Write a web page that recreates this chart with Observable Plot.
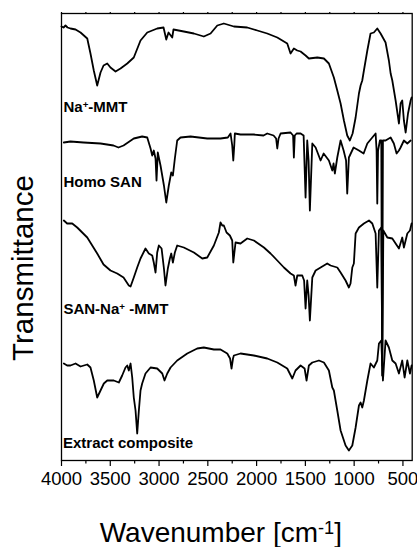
<!DOCTYPE html>
<html>
<head>
<meta charset="utf-8">
<script src="https://cdn.jsdelivr.net/npm/d3@7"></script>
<script src="https://cdn.jsdelivr.net/npm/@observablehq/plot@0.6"></script>
<style>
  html, body { margin: 0; padding: 0; background: #fff; }
  #chart svg { display: block; }
</style>
</head>
<body>
<div id="chart"></div>
<script>
// Wavenumber (cm-1) and transmittance (a.u., stacked offsets)
const naMMT = [
  [4000,434],[3979,433],[3959,435],[3938,433],[3908,432],[3856,431],[3805,428],[3736,422],
  [3703,407],[3669,390],[3634,375],[3600,388],[3569,395],[3531,397],[3498,393],[3446,389],
  [3395,392],[3326,397],[3259,403],[3190,420],[3121,428],[3019,432],[2954,433],[2926,421],
  [2903,428],[2865,423],[2852,431],[2746,429],[2643,427],[2541,424],[2472,427],[2403,435],
  [2336,437],[2233,434],[2096,433],[1993,430],[1891,427],[1788,423],[1686,417],[1652,407],
  [1618,412],[1583,410],[1549,409],[1498,405],[1464,402],[1378,403],[1310,402],[1259,397],
  [1208,383],[1173,370],[1139,357],[1105,340],[1071,325],[1044,320],[1016,327],[985,343],
  [951,367],[934,375],[917,380],[900,390],[865,410],[832,427],[798,428],[763,432],
  [729,427],[678,418],[644,400],[626,387],[609,380],[575,360],[541,337],[524,357],
  [507,360],[490,340],[472,328],[448,347],[421,360],[411,363]
];
const homoSAN = [
  [3976,318],[3908,319],[3774,318],[3600,317],[3467,315],[3416,313],[3364,315],[3259,322],
  [3173,324],[3121,323],[3087,312],[3070,305],[3054,310],[3036,302],[3026,280],[3013,308],
  [2985,295],[2950,275],[2926,258],[2900,275],[2875,288],[2858,285],[2838,302],[2814,320],
  [2780,323],[2677,324],[2506,322],[2370,322],[2295,323],[2267,327],[2250,315],[2239,300],
  [2229,315],[2223,327],[2165,326],[2031,326],[1929,325],[1891,327],[1826,325],[1800,322],
  [1788,312],[1775,322],[1754,327],[1652,328],[1626,325],[1618,303],[1609,325],[1590,327],
  [1549,327],[1518,325],[1498,263],[1481,320],[1467,300],[1454,250],[1429,317],[1395,313],
  [1344,300],[1313,307],[1259,300],[1224,290],[1211,297],[1198,287],[1173,303],[1139,320],
  [1108,310],[1083,300],[1071,267],[1054,303],[1006,313],[951,310],[903,307],[865,317],
  [814,323],[780,327],[770,310],[763,257],[755,310],[736,320],[722,320],[713,85],
  [705,320],[678,320],[626,323],[593,317],[565,307],[541,310],[524,313],[490,320],
  [455,317],[421,320]
];
const sanNaMMT = [
  [3976,240],[3942,237],[3890,237],[3839,233],[3736,223],[3634,207],[3569,196],[3498,190],
  [3429,187],[3364,183],[3310,175],[3292,174],[3259,183],[3224,193],[3190,202],[3139,212],
  [3105,207],[3070,205],[3054,198],[3036,188],[3019,208],[3002,215],[2974,212],[2950,192],
  [2934,175],[2910,192],[2889,202],[2875,207],[2858,198],[2838,208],[2814,215],[2746,213],
  [2643,208],[2557,202],[2506,203],[2438,215],[2387,228],[2370,238],[2352,235],[2336,235],
  [2308,228],[2274,225],[2250,220],[2239,198],[2216,218],[2165,217],[2096,222],[2028,220],
  [1925,213],[1857,207],[1788,200],[1720,193],[1652,187],[1618,185],[1601,175],[1583,185],
  [1532,185],[1513,180],[1498,152],[1481,180],[1467,165],[1454,140],[1429,183],[1395,190],
  [1344,193],[1276,197],[1242,195],[1173,193],[1139,188],[1088,180],[1054,173],[1037,177],
  [1019,193],[1003,197],[985,227],[951,233],[900,237],[848,240],[814,237],[780,227],
  [763,173],[746,230],[722,233],[711,95],[701,230],[660,223],[609,222],[575,217],
  [541,212],[507,223],[490,213],[455,227],[428,230],[411,237]
];
const extractComposite = [
  [3976,97],[3942,95],[3908,95],[3856,97],[3805,94],[3736,96],[3703,93],[3669,80],
  [3634,63],[3600,70],[3566,77],[3531,80],[3464,80],[3412,78],[3378,85],[3344,93],
  [3326,95],[3310,90],[3292,97],[3275,83],[3259,63],[3241,50],[3224,27],[3207,50],
  [3190,70],[3173,77],[3139,87],[3087,93],[3019,92],[2967,87],[2944,80],[2916,87],
  [2882,93],[2814,100],[2711,107],[2609,112],[2541,113],[2438,111],[2370,111],[2301,107],
  [2272,102],[2257,92],[2242,102],[2233,105],[2165,107],[2028,105],[1891,102],[1788,98],
  [1686,92],[1634,82],[1601,90],[1549,95],[1508,92],[1488,80],[1464,95],[1429,98],
  [1361,100],[1310,98],[1259,90],[1224,73],[1208,70],[1173,50],[1139,30],[1088,15],
  [1054,10],[1019,15],[985,33],[951,55],[934,58],[917,53],[900,60],[865,80],
  [832,97],[798,93],[763,100],[746,117],[722,120],[705,80],[678,120],[644,113],
  [609,100],[575,97],[541,87],[507,100],[483,83],[455,100],[428,87],[411,95]
];
const series = [naMMT, homoSAN, sanNaMMT, extractComposite];

// Curve labels ({} marks superscript), with anchor wavenumber and level
const labelNames = ["Na{+}-MMT", "Homo SAN", "SAN-Na{+} -MMT", "Extract composite"];
const labelWn = [3980, 3980, 3980, 3985];
const labelT = [353, 278, 151, 17.5];

const majorTicks = [4000, 3500, 3000, 2500, 2000, 1500, 1000, 500];
const minorTicks = [3750, 3250, 2750, 2250, 1750, 1250, 750];
const xTitle = "Wavenumber [cm{-1}]";
const yTitle = "Transmittance";

const labels = labelNames.map((t, i) => ({text: t, x: labelWn[i], y: labelT[i]}));

const chart = Plot.plot({
  width: 417,
  height: 547,
  marginLeft: 61,
  marginRight: 5.3,
  marginTop: 13,
  marginBottom: 87,
  style: {fontFamily: "'Liberation Sans', Arial, sans-serif", color: "black", background: "white"},
  x: {domain: [4000, 405]},
  y: {domain: [0, 447], axis: null},
  marks: [
    ...series.map(s => Plot.line(s, {x: d => d[0], y: d => d[1], stroke: "black", strokeWidth: 1.8, strokeLinejoin: "round"})),
    Plot.frame({stroke: "black", strokeWidth: 1.3}),
    Plot.axisX({anchor: "bottom", ticks: majorTicks, tickSize: 6, tickPadding: 5, fontSize: 18.5, tickFormat: d => String(d), label: null, strokeWidth: 1.2}),
    Plot.axisX({anchor: "bottom", ticks: minorTicks, tickSize: 3.5, text: null, label: null, strokeWidth: 1.2}),
    Plot.axisX({anchor: "top", ticks: majorTicks.concat(minorTicks), tickSize: 2, text: null, label: null, strokeWidth: 1.2}),
    Plot.text(labels, {x: "x", y: "y", text: "text", textAnchor: "start", lineAnchor: "middle", fontWeight: "bold", fontSize: 15, fill: "black"}),
    Plot.text([xTitle], {frameAnchor: "bottom", textAnchor: "middle", lineAnchor: "top", dx: -16, dy: 62, fontSize: 28, fill: "black"}),
    Plot.text([yTitle], {frameAnchor: "left", rotate: -90, textAnchor: "middle", lineAnchor: "middle", dx: -37.5, dy: 31, fontSize: 29.5, fill: "black"})
  ]
});

// render {..} parts as superscripts
d3.select(chart).selectAll("text").each(function() {
  const el = d3.select(this);
  if (this.querySelector("tspan")) return;
  const txt = this.textContent;
  if (!/\{[^}]*\}/.test(txt)) return;
  const parts = txt.split(/(\{[^}]*\})/).filter(p => p.length);
  el.text(null);
  let raised = false;
  for (const p of parts) {
    if (p.startsWith("{")) {
      el.append("tspan").attr("dy", "-0.45em").attr("font-size", "65%").text(p.slice(1, -1));
      raised = true;
    } else {
      const t = el.append("tspan").text(p);
      if (raised) { t.attr("dy", "0.29em"); raised = false; }
    }
  }
});

document.getElementById("chart").appendChild(chart);
</script>
</body>
</html>
